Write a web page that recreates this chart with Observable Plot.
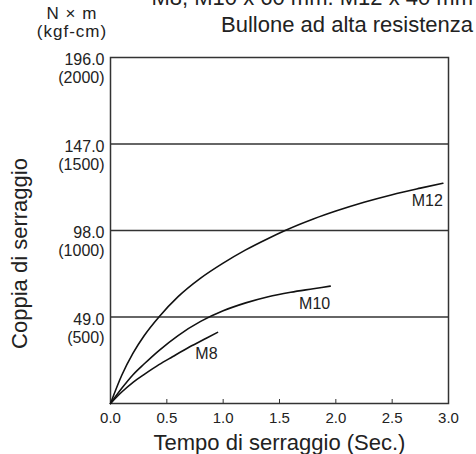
<!DOCTYPE html>
<html><head><meta charset="utf-8">
<script src="https://cdn.jsdelivr.net/npm/d3@7"></script>
<script src="https://cdn.jsdelivr.net/npm/@observablehq/plot@0.6"></script>
<style>
body{margin:0;background:#fff;overflow:hidden;font-family:"Liberation Sans",Arial,sans-serif;color:#222}
#wrap{position:relative;width:476px;height:454px;overflow:hidden}
#head{position:relative;height:46px;overflow:hidden}
.t{position:absolute;right:3px;top:-16px;font-size:22px;line-height:27px;text-align:right;white-space:nowrap}
.u{position:absolute;left:0;width:144px;text-align:center;font-size:17px;line-height:17px;letter-spacing:1px;white-space:nowrap}
#u1{top:5px}
#u2{top:23px}
#chart svg{display:block}
</style></head>
<body>
<div id="wrap">
<div id="head"><div class="t" id="title"></div><div class="u" id="u1"></div><div class="u" id="u2"></div></div>
<div id="chart"></div>
</div>
<script>
const titleLines = ["M8, M10 x 60 mm. M12 x 40 mm", "Bullone ad alta resistenza"];
const unitLines = ["N × m", "(kgf-cm)"];
const xLabel = "Tempo di serraggio (Sec.)";
const yLabel = "Coppia di serraggio";
const xTicks = [0, 0.5, 1, 1.5, 2, 2.5, 3];
const yTicks = [49, 98, 147, 196];
const yTicksKgf = [500, 1000, 1500, 2000];
const gridY = [49, 98, 147];

const seriesNames = ["M12", "M10", "M8"];
const m12Time   = [0, 0.1, 0.2, 0.3, 0.43, 0.6, 0.8, 1.0, 1.2, 1.4, 1.55, 1.8, 2.0, 2.25, 2.5, 2.75, 2.95];
const m12Torque = [0, 16, 28.5, 38.5, 49, 60.5, 71, 79.5, 87, 93.5, 98, 104.5, 109, 114, 118.3, 122, 124.8];
const m10Time   = [0, 0.1, 0.2, 0.3, 0.43, 0.6, 0.8, 1.0, 1.2, 1.4, 1.6, 1.8, 1.95];
const m10Torque = [0, 8.6, 16.3, 22.5, 30, 38.5, 46.5, 52.5, 57, 60.5, 63, 65, 66.5];
const m8Time    = [0, 0.1, 0.2, 0.3, 0.43, 0.55, 0.7, 0.85, 0.95];
const m8Torque  = [0, 6.5, 12, 16.5, 22, 26.5, 32, 37, 40.3];

const seriesTime = [m12Time, m10Time, m8Time];
const seriesTorque = [m12Torque, m10Torque, m8Torque];
const rows = seriesNames.flatMap((name, s) =>
  seriesTime[s].map((t, i) => ({name, t, v: seriesTorque[s][i]})));

document.getElementById("title").innerHTML = titleLines.join("<br>");
document.getElementById("u1").textContent = unitLines[0];
document.getElementById("u2").textContent = unitLines[1];

const chart = Plot.plot({
  width: 476,
  height: 408,
  marginTop: 11,
  marginBottom: 51,
  marginLeft: 110,
  marginRight: 28,
  style: {fontFamily: "Liberation Sans, Arial, sans-serif", color: "#222", background: "#fff"},
  x: {domain: [0, 3]},
  y: {domain: [0, 196]},
  marks: [
    Plot.ruleY(gridY, {stroke: "#333", strokeWidth: 1.5}),
    Plot.frame({stroke: "#333", strokeWidth: 1.5}),
    Plot.axisX({ticks: xTicks, tickFormat: d => d.toFixed(1), tickSize: -4, tickPadding: 13,
      fontSize: 15, label: null, stroke: "#333"}),
    Plot.axisY({ticks: yTicks, tickSize: 0, tickPadding: 6, fontSize: 16, lineHeight: 1.12, label: null,
      lineAnchor: "top", dy: -5,
      tickFormat: d => `${d.toFixed(1)}\n(${yTicksKgf[yTicks.indexOf(d)]})`}),
    Plot.line(rows, {x: "t", y: "v", z: "name", curve: "monotone-x", stroke: "#111", strokeWidth: 1.6}),
    Plot.text(rows.filter(d => d.name !== "M8"), Plot.selectLast({x: "t", y: "v", z: "name", text: "name",
      textAnchor: "end", dy: 18, fontSize: 16, fill: "#222"})),
    Plot.text(rows.filter(d => d.name === "M8"), Plot.selectLast({x: "t", y: "v", z: "name", text: "name",
      textAnchor: "end", dy: 22, fontSize: 16, fill: "#222"})),
    Plot.text([xLabel], {frameAnchor: "bottom", textAnchor: "middle", dy: 39, fontSize: 22, lineAnchor: "middle", fill: "#222"}),
    Plot.text([yLabel], {frameAnchor: "left", textAnchor: "middle", rotate: -90, dx: -91, dy: 23, fontSize: 22, lineAnchor: "middle", fill: "#222"})
  ]
});
document.getElementById("chart").appendChild(chart);
</script>
</body></html>
